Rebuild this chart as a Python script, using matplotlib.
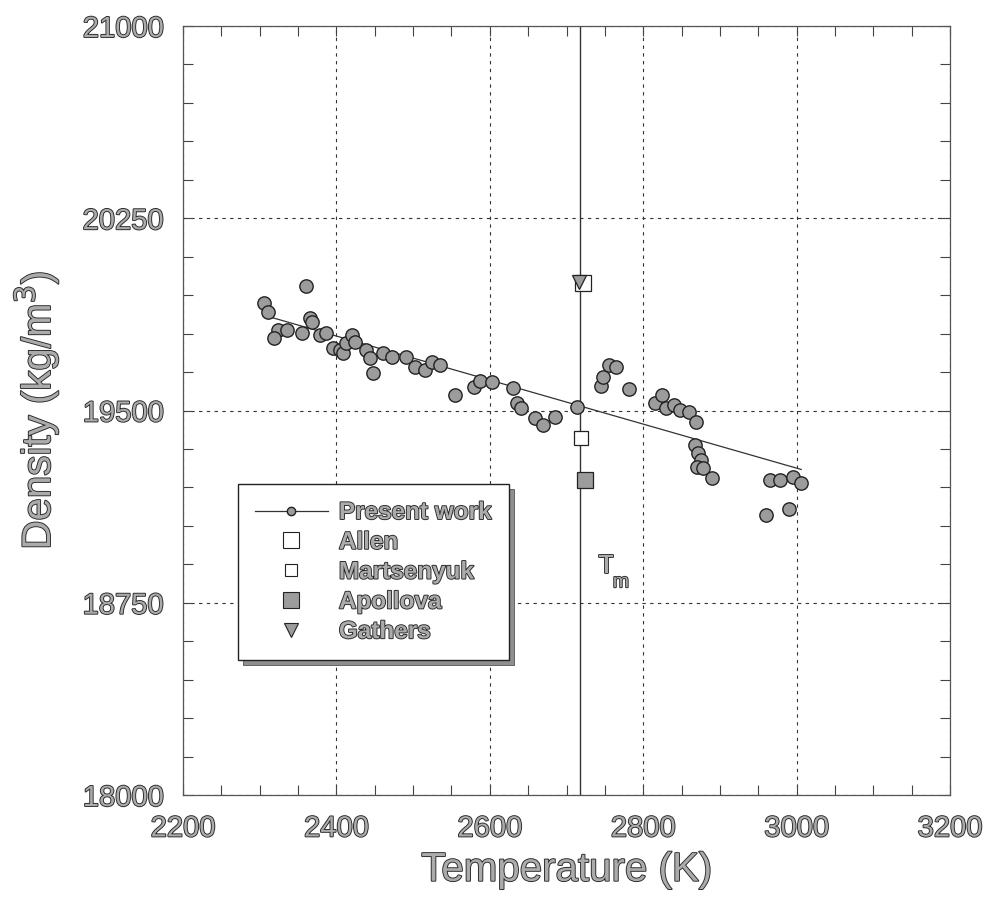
import numpy as np
import matplotlib
matplotlib.use("Agg")
import matplotlib.pyplot as plt
import matplotlib.patheffects as pe
from matplotlib.lines import Line2D
from matplotlib.patches import Rectangle
from matplotlib.transforms import IdentityTransform
from matplotlib.ticker import MultipleLocator

### DATA ######################################################################

# present work (temperature K, density kg/m3)
present_T = [2305, 2311, 2324, 2335, 2318, 2355, 2360, 2365, 2368, 2378,
             2386, 2396, 2405, 2409, 2413, 2420, 2424, 2439, 2444, 2448,
             2461, 2472, 2491, 2502, 2515, 2524, 2535, 2554, 2580, 2587,
             2603, 2630, 2635, 2641, 2659, 2670, 2685, 2714, 2745, 2748,
             2756, 2764, 2782, 2815, 2824, 2830, 2840, 2848, 2860, 2869,
             2867, 2872, 2875, 2870, 2878, 2890, 2960, 2965, 2978, 2990,
             2995, 3006]
present_rho = [19918, 19885, 19814, 19814, 19781, 19801, 19986, 19860, 19847, 19794,
               19803, 19742, 19736, 19723, 19762, 19794, 19768, 19736, 19703, 19645,
               19723, 19710, 19710, 19671, 19658, 19690, 19677, 19560, 19593, 19616,
               19612, 19586, 19528, 19510, 19472, 19445, 19476, 19515, 19595, 19629,
               19677, 19668, 19582, 19530, 19560, 19508, 19521, 19502, 19495, 19456,
               19365, 19333, 19305, 19280, 19275, 19235, 19092, 19229, 19229, 19114,
               19239, 19218]

# linear fit of present work (end points)
fit_T = [2305, 3006]
fit_rho = [19872, 19270]

allen_T, allen_rho = [2721], [19998]
marts_T, marts_rho = [2719], [19391]
apoll_T, apoll_rho = [2724], [19229]
gath_T, gath_rho = [2716], [20002]

Tm = 2718

xticks = [2200, 2400, 2600, 2800, 3000, 3200]
yticks = [18000, 18750, 19500, 20250, 21000]

### STYLE #####################################################################

plt.rcParams['font.family'] = ['Liberation Sans', 'DejaVu Sans']
txt_fx = [pe.withStroke(linewidth=1.3, foreground='#262626')]
txt_col = '#ababab'
mk_face = '#9c9c9c'

### PLOT ######################################################################

fig = plt.figure(figsize=(9.86, 9.08), dpi=100)
ax = fig.add_axes([183/986, 1-795/908, 767/986, 769/908])

ax.set_xlim(2200, 3200)
ax.set_ylim(18000, 21000)
ax.set_xticks(xticks)
ax.set_yticks(yticks)
ax.xaxis.set_minor_locator(MultipleLocator(50))
ax.yaxis.set_minor_locator(MultipleLocator(150))
ax.tick_params(which='both', direction='in', top=True, right=True,
               length=7, width=0.8, color='#444444')
ax.tick_params(which='major', labelsize=21, pad=14, labelcolor=txt_col)
for lab in ax.get_xticklabels() + ax.get_yticklabels():
    lab.set_path_effects(txt_fx)
for s in ax.spines.values():
    s.set_color('#555555')
    s.set_linewidth(0.9)

ax.grid(True, which='major', linestyle=(0, (3, 4)), color='#333333', linewidth=0.8)

# melting point
ax.axvline(Tm, color='#333333', linewidth=1.0, zorder=2)
ax.text(2752, 18895, 'T', fontsize=18, color=txt_col, path_effects=txt_fx,
        ha='center', va='center')
ax.text(2771, 18828, 'm', fontsize=14, color=txt_col, path_effects=txt_fx,
        ha='center', va='center')

ax.plot(fit_T, fit_rho, color='#333333', linewidth=0.9, zorder=3)
ax.plot(present_T, present_rho, 'o', markersize=9.6, markerfacecolor=mk_face,
        markeredgecolor='#222222', markeredgewidth=1.0, zorder=4)
ax.plot(allen_T, allen_rho, 's', markersize=12, markerfacecolor='white',
        markeredgecolor='#222222', markeredgewidth=0.9, zorder=4)
ax.plot(gath_T, gath_rho, 'v', markersize=10, markerfacecolor=mk_face,
        markeredgecolor='#222222', markeredgewidth=0.9, zorder=5)
ax.plot(marts_T, marts_rho, 's', markersize=9.4, markerfacecolor='white',
        markeredgecolor='#222222', markeredgewidth=0.9, zorder=4)
ax.plot(apoll_T, apoll_rho, 's', markersize=12, markerfacecolor=mk_face,
        markeredgecolor='#222222', markeredgewidth=0.9, zorder=4)

ax.set_xlabel('Temperature (K)', fontsize=29, color=txt_col, labelpad=6,
              path_effects=txt_fx)
ax.set_ylabel('Density (kg/m$^3$)', fontsize=29, color=txt_col, labelpad=16,
              path_effects=txt_fx)

### LEGEND ####################################################################

handles = [
    Line2D([], [], color='#333333', linewidth=0.9, marker='o', markersize=6,
           markerfacecolor=mk_face, markeredgecolor='#222222'),
    Line2D([], [], linestyle='none', marker='s', markersize=12,
           markerfacecolor='white', markeredgecolor='#222222', markeredgewidth=0.8),
    Line2D([], [], linestyle='none', marker='s', markersize=8.5,
           markerfacecolor='white', markeredgecolor='#222222', markeredgewidth=0.8),
    Line2D([], [], linestyle='none', marker='s', markersize=12,
           markerfacecolor=mk_face, markeredgecolor='#222222', markeredgewidth=0.8),
    Line2D([], [], linestyle='none', marker='v', markersize=9.5,
           markerfacecolor=mk_face, markeredgecolor='#222222', markeredgewidth=0.8),
]
labels = ['Present work', 'Allen', 'Martsenyuk', 'Apollova', 'Gathers']

x0 = (238 - 183) / 767
ytop = (795 - 484) / 769
leg = ax.legend(handles, labels, loc='upper left', bbox_to_anchor=(x0, ytop),
                borderaxespad=0, handlelength=3.0,
                handletextpad=0.45, labelspacing=0.28, borderpad=0.7,
                prop={'size': 17.5, 'weight': 'bold'},
                fancybox=False, framealpha=1, edgecolor='#222222')
leg.get_frame().set_linewidth(1.0)
leg.set_zorder(10)
for t in leg.get_texts():
    t.set_color(txt_col)
    t.set_path_effects(txt_fx)

# shadow behind the legend box
fig.canvas.draw()
bb = leg.get_frame().get_window_extent()
shadow = Rectangle((bb.x0 + 5, bb.y0 - 5), bb.width, bb.height,
                   transform=IdentityTransform(), facecolor='#8f8f8f',
                   edgecolor='#555555', linewidth=0.6, zorder=9, clip_on=False)
ax.add_artist(shadow)

fig.savefig('out.png', dpi=100, facecolor='white')
